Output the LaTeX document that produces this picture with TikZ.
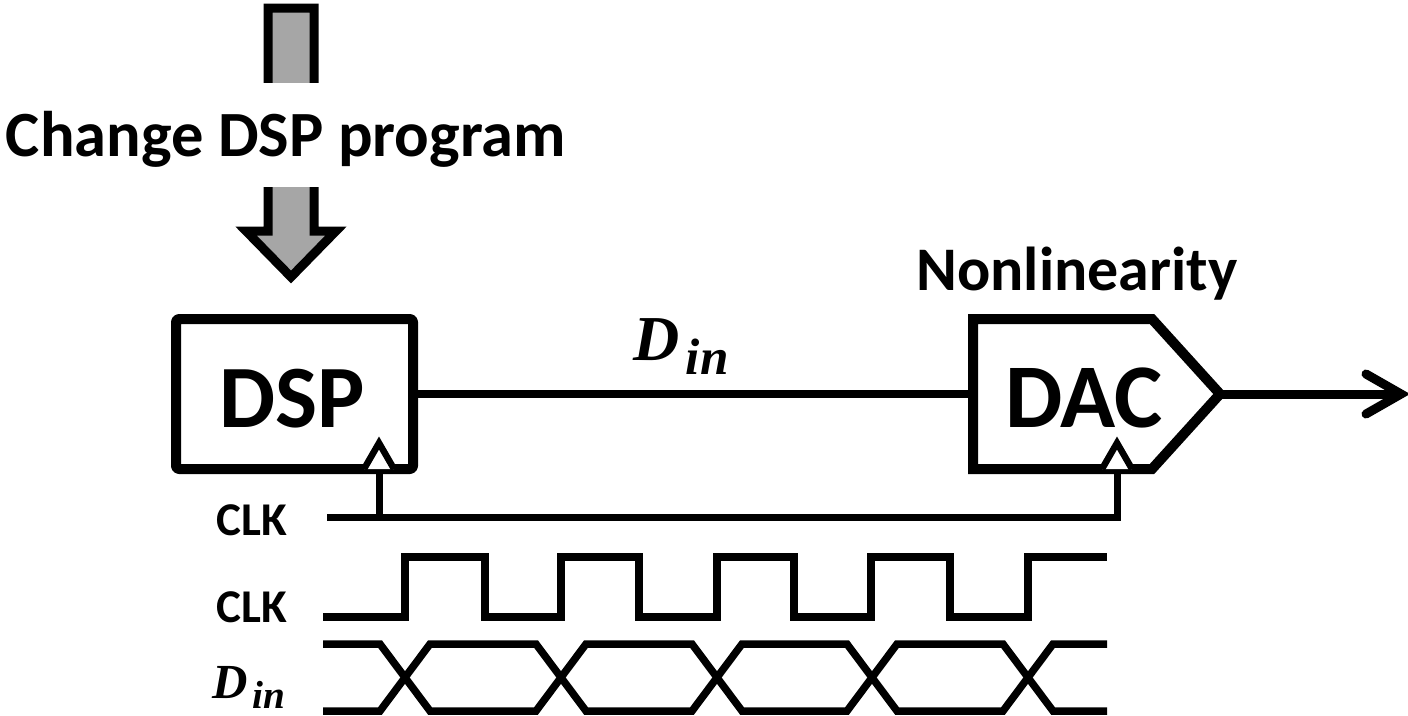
\documentclass[tikz,border=0pt]{standalone}
\usepackage{fontspec}
\setmainfont{Carlito}
\newfontfamily\dinfont{Liberation Serif}
\definecolor{arrowgray}{HTML}{A6A6A6}
% bold italic D with subscript "in", at a given size
\newcommand{\dinsym}[1]{{\dinfont\bfseries\itshape\fontsize{#1}{#1}\selectfont D\kern0.1em\raisebox{-0.22em}{\fontsize{0.8\dimexpr#1pt\relax}{1pt}\selectfont in}}}
\begin{document}
\begin{tikzpicture}[x=1pt,y=-1pt,
  lbl/.style={inner sep=0pt,anchor=base,font=\bfseries},
  blockline/.style={line width=10pt,line join=round},
  wire/.style={line width=8pt},
  thinwire/.style={line width=7pt},
  clktri/.style={line width=6.5pt,line join=miter,fill=white},
  wave/.style={line width=7.5pt,line join=miter}]
\useasboundingbox (0,0) rectangle (1408,715);

% program-change arrow
\draw[line width=9pt,fill=arrowgray,line join=miter]
  (268,8) -- (314,8) -- (314,231) -- (336,231) -- (291,277)
  -- (246,231) -- (268,231) -- cycle;
\node[lbl,fill=white,inner ysep=0pt] (prog) at (286,156)
  {\rule[-31pt]{0pt}{104pt}\fontsize{64.5}{74}\selectfont Change DSP program};

% blocks
\node[blockline,draw,rounded corners=3pt,minimum width=237pt,minimum height=150pt,inner sep=0pt]
  (dsp) at (294.5,394) {};
\node[lbl] (dsptxt) at (292,427) {\fontsize{89}{92}\selectfont DSP};

\coordinate (dacW) at (973,394);
\coordinate (dacTip) at (1220,394);
\draw[blockline,line join=miter] (973,319) -- (1152,319) -- (dacTip) -- (1152,469) -- (973,469) -- cycle;
\node[lbl] (dactxt) at (1084,427) {\fontsize{91}{94}\selectfont DAC};
\node[lbl] (nonlin) at (1077,290) {\fontsize{62}{70}\selectfont Nonlinearity};

% data path
\draw[wire] (dsp.east) -- (dacW);
\node[inner sep=0pt,anchor=base west] (dinlbl) at (633,360) {\dinsym{64}};

% output
\coordinate (outEnd) at (1401,394);
\draw[line width=9pt] (dacTip) -- (1396,394);
\draw[line width=9pt,line cap=round,line join=miter] (1366,374) -- (outEnd) -- (1366,414);

% clock distribution
\coordinate (clkStart) at (327,517);
\coordinate (dspClk) at (379,469);
\coordinate (dacClk) at (1117,469);
\draw[thinwire] (dspClk) -- (379,517);
\draw[thinwire,line join=miter] (clkStart) -- (1117,517) -- (dacClk);
\draw[clktri] (364,469) -- (379,443) -- (394,469);
\draw[clktri] (1102,469) -- (1117,443) -- (1132,469);
\node[lbl] (clka) at (252,535) {\fontsize{47}{50}\selectfont CLK};

% timing diagram
\node[lbl] (clkb) at (252,622) {\fontsize{47}{50}\selectfont CLK};
\draw[wave] (323,617) -| (405,557) -| (485,617) -| (561,557) -| (639,617)
  -| (717,557) -| (794,617) -| (871,557) -| (950,617) -| (1028,557) -- (1107,557);

\node[inner sep=0pt,anchor=base west] (dinb) at (212,698) {\dinsym{49}};
\draw[wave] (323,644) -- (380,644) -- (430,711) -- (536,711) -- (586,644)
  -- (692,644) -- (742,711) -- (847,711) -- (897,644) -- (1003,644)
  -- (1053,711) -- (1107,711);
\draw[wave] (323,711) -- (380,711) -- (430,644) -- (536,644) -- (586,711)
  -- (692,711) -- (742,644) -- (847,644) -- (897,711) -- (1003,711)
  -- (1053,644) -- (1107,644);
\end{tikzpicture}
\end{document}
